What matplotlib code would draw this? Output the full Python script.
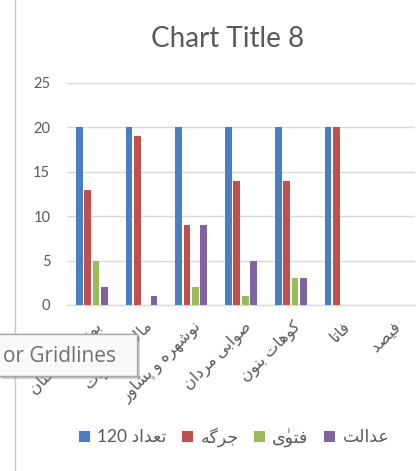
import matplotlib
matplotlib.use("Agg")
import matplotlib.pyplot as plt
import matplotlib.transforms as mtransforms
import matplotlib.patheffects as pe
from matplotlib.lines import Line2D
from matplotlib.patches import Rectangle
import numpy as np

# ---- data -------------------------------------------------------------
categories = ["بونیر کوهستان", "مالاکند سوات", "نوشهره و پشاور",
              "صوابی مردان", "کوهات بنون", "فاتا", "فیصد"]
series_names = ["تعداد 120", "جرگه", "فتویٰ", "عدالت"]
total = [20, 20, 20, 20, 20, 20, 0]
jirga = [13, 19, 9, 14, 14, 20, 0]
fatwa = [5, 0, 2, 1, 3, 0, 0]
court = [2, 1, 9, 5, 3, 0, 0]
y_ticks = [0, 5, 10, 15, 20, 25]
chart_title = "Chart Title 8"
tooltip_text = "or Gridlines"

colors = ["#4A7DC4", "#C0504D", "#9BBB59", "#8064A2"]

# ---- minimal Arabic-script shaping (matplotlib lays text out left to right) ----
# isolated, final, initial, medial presentation forms
FORMS = {
    "ا": ("\uFE8D", "\uFE8E", None, None),
    "ب": ("\uFE8F", "\uFE90", "\uFE91", "\uFE92"),
    "پ": ("\uFB56", "\uFB57", "\uFB58", "\uFB59"),
    "ت": ("\uFE95", "\uFE96", "\uFE97", "\uFE98"),
    "ج": ("\uFE9D", "\uFE9E", "\uFE9F", "\uFEA0"),
    "د": ("\uFEA9", "\uFEAA", None, None),
    "ر": ("\uFEAD", "\uFEAE", None, None),
    "س": ("\uFEB1", "\uFEB2", "\uFEB3", "\uFEB4"),
    "ش": ("\uFEB5", "\uFEB6", "\uFEB7", "\uFEB8"),
    "ص": ("\uFEB9", "\uFEBA", "\uFEBB", "\uFEBC"),
    "ع": ("\uFEC9", "\uFECA", "\uFECB", "\uFECC"),
    "ف": ("\uFED1", "\uFED2", "\uFED3", "\uFED4"),
    "ک": ("\uFB8E", "\uFB8F", "\uFB90", "\uFB91"),
    "گ": ("\uFB92", "\uFB93", "\uFB94", "\uFB95"),
    "ل": ("\uFEDD", "\uFEDE", "\uFEDF", "\uFEE0"),
    "م": ("\uFEE1", "\uFEE2", "\uFEE3", "\uFEE4"),
    "ن": ("\uFEE5", "\uFEE6", "\uFEE7", "\uFEE8"),
    "ه": ("\uFEE9", "\uFEEA", "\uFEEB", "\uFEEC"),
    "و": ("\uFEED", "\uFEEE", None, None),
    "ی": ("\uFBFC", "\uFBFD", "\uFBFE", "\uFBFF"),
}
MARKS = {"\u0670"}


def _join_type(tok):
    if tok == "لا":
        return "R"
    if tok in MARKS:
        return "T"
    f = FORMS.get(tok)
    if f is None:
        return "U"
    return "D" if f[2] else "R"


def _shape_word(word):
    toks, i = [], 0
    while i < len(word):
        if word[i] == "ل" and i + 1 < len(word) and word[i + 1] == "ا":
            toks.append("لا")
            i += 2
        else:
            toks.append(word[i])
            i += 1
    clusters = []
    for k, t in enumerate(toks):
        jt = _join_type(t)
        if jt == "T":
            if clusters:
                clusters[-1] += t
            else:
                clusters.append(t)
            continue
        if jt == "U":
            clusters.append(t)
            continue
        p = k - 1
        while p >= 0 and _join_type(toks[p]) == "T":
            p -= 1
        q = k + 1
        while q < len(toks) and _join_type(toks[q]) == "T":
            q += 1
        join_prev = p >= 0 and _join_type(toks[p]) == "D"
        join_next = jt == "D" and q < len(toks) and _join_type(toks[q]) in ("D", "R")
        if t == "لا":
            clusters.append("\uFEFC" if join_prev else "\uFEFB")
            continue
        iso, fin, ini, med = FORMS[t]
        if join_prev and join_next:
            g = med
        elif join_prev:
            g = fin
        elif join_next:
            g = ini
        else:
            g = iso
        clusters.append(g)
    return "".join(reversed(clusters))


def rtl(text):
    lines = []
    for line in text.split("\n"):
        words = line.split(" ")
        out = []
        for w in reversed(words):
            if any(ch in FORMS or ch in MARKS for ch in w):
                out.append(_shape_word(w))
            else:
                out.append(w)
        lines.append(" ".join(out))
    return "\n".join(lines)


# ---- figure -------------------------------------------------------------
plt.rcParams["font.family"] = ["Lato", "DejaVu Sans"]
W, H = 416, 471
fig = plt.figure(figsize=(W / 100, H / 100), dpi=100)
fig.patch.set_facecolor("white")

ax = fig.add_axes([67 / W, 166 / H, 348 / W, 222 / H])
x = np.arange(len(categories))
slot = 0.167
bar_w = 0.135
series = [total, jirga, fatwa, court]
for i, (name, vals, col) in enumerate(zip(series_names, series, colors)):
    ax.bar(x + (i - 1.5) * slot, vals, width=bar_w, color=col,
           label=rtl(name), zorder=3)

ax.set_xlim(-0.5, len(categories) - 0.5)
ax.set_ylim(0, 25)
ax.set_yticks(y_ticks)
ax.yaxis.grid(True, color="#D9D9D9", lw=1, zorder=0)
ax.set_axisbelow(True)
for s in ("top", "right", "left"):
    ax.spines[s].set_visible(False)
ax.spines["bottom"].set_color("#D9D9D9")
ax.spines["bottom"].set_linewidth(1)
ax.tick_params(axis="both", length=0, labelcolor="#595959")
ax.tick_params(axis="y", pad=12, labelsize=10.5)

ax.set_xticks(x)
ax.set_xticklabels([rtl(c) for c in categories], rotation=45, ha="right",
                   va="center", rotation_mode="anchor", fontsize=11.5,
                   color="#595959")
ax.tick_params(axis="x", pad=14)
shift = mtransforms.ScaledTranslation(8 / 100, 0, fig.dpi_scale_trans)
for lbl in ax.get_xticklabels():
    lbl.set_transform(lbl.get_transform() + shift)

# title
fig.text(227.5 / W, 1 - 47 / H, chart_title, ha="center", va="baseline",
         fontsize=20, color="#595959")

# legend
fig.legend(loc="center", bbox_to_anchor=(234 / W, 1 - 437 / H), ncol=4,
           frameon=False, fontsize=12.5, handlelength=0.65, handleheight=0.65,
           handletextpad=0.4, columnspacing=0.9, labelcolor="#595959")

# frame edge on the left
fig.add_artist(Line2D([14.5 / W, 14.5 / W], [0, 1], transform=fig.transFigure,
                      color="#C8C8C8", lw=1))

# hover tooltip
box = Rectangle((-2 / W, 1 - 376 / H), 139 / W, 42 / H,
                transform=fig.transFigure, fc="#F9F9F9", ec="#A8A8A8", lw=1,
                zorder=9)
box.set_path_effects(
    [pe.withSimplePatchShadow(offset=(2, -2), shadow_rgbFace="#777777", alpha=0.35),
     pe.Normal()])
fig.add_artist(box)
fig.text(3 / W, 1 - 356 / H, tooltip_text, ha="left", va="center",
         fontsize=15, color="#707070", family="Open Sans", zorder=10)

fig.savefig("out.png", dpi=100)
